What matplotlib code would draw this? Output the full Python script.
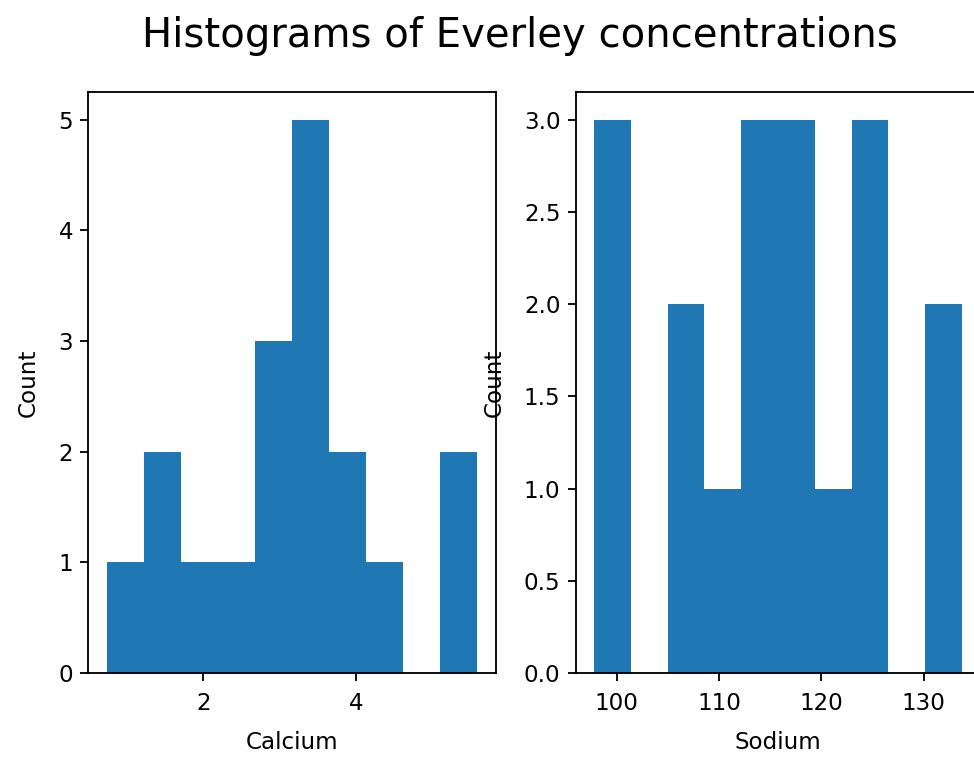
import numpy as np
import matplotlib
matplotlib.use("Agg")
import matplotlib.pyplot as plt

# Data
calcium_edges = [0.734, 1.220, 1.706, 2.192, 2.678, 3.164, 3.650, 4.136, 4.622, 5.108, 5.594]
calcium_counts = [1, 2, 1, 1, 3, 5, 2, 1, 0, 2]
sodium_edges = [97.78, 101.38, 104.97, 108.57, 112.16, 115.76, 119.36, 122.95, 126.55, 130.14, 133.74]
sodium_counts = [3, 0, 2, 1, 3, 3, 1, 3, 0, 2]

title = "Histograms of Everley concentrations"

W, H = 974, 758
dpi = 166
fig = plt.figure(figsize=(W / dpi, H / dpi), dpi=dpi)
plt.rcParams['font.size'] = 10

def px(x0, y0, x1, y1):
    return [x0 / W, 1 - y1 / H, (x1 - x0) / W, (y1 - y0) / H]

ax1 = fig.add_axes(px(88, 92, 496, 673))
ax2 = fig.add_axes(px(575.5, 92, 980.5, 673))

ce = np.array(calcium_edges)
se = np.array(sodium_edges)
ax1.hist((ce[:-1] + ce[1:]) / 2, bins=ce, weights=calcium_counts, color="#1f77b4")
ax2.hist((se[:-1] + se[1:]) / 2, bins=se, weights=sodium_counts, color="#1f77b4")

for ax, xl in ((ax1, "Calcium"), (ax2, "Sodium")):
    ax.set_xlabel(xl, labelpad=7)
    ax.set_ylabel("Count", labelpad=8)
    ax.tick_params(axis="x", pad=4.8)
    ax.tick_params(axis="y", pad=3.0)

fig.suptitle(title, fontsize=17.4, x=520 / W, y=1 - 36 / H, va="center")

fig.savefig("out.png", dpi=dpi)
